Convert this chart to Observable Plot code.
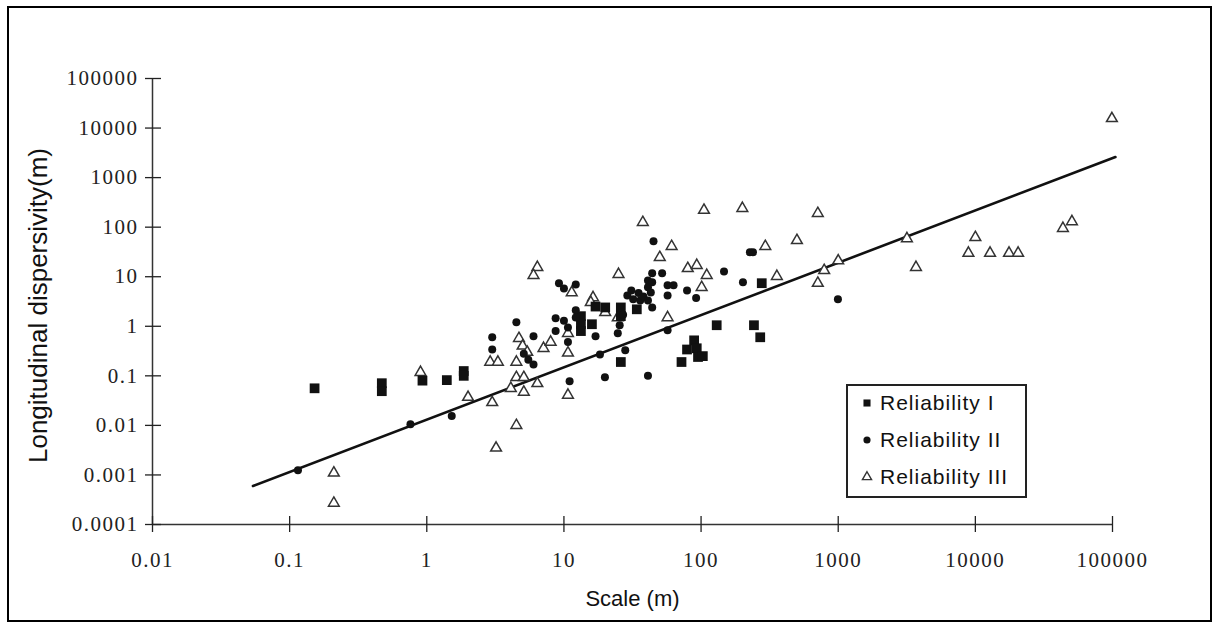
<!DOCTYPE html>
<html><head><meta charset="utf-8">
<script src="https://cdn.jsdelivr.net/npm/d3@7"></script>
<script src="https://cdn.jsdelivr.net/npm/@observablehq/plot@0.6"></script>
<style>
body{margin:0;background:#fff;}
#wrap{position:relative;width:1218px;height:624px;overflow:hidden;}
#wrap svg{display:block;}
#border{position:absolute;left:7px;top:6px;width:1201px;height:612px;border:2px solid #000;pointer-events:none;}
#legend{position:absolute;left:846px;top:384px;width:177px;height:110px;border:2px solid #222;background:#fff;font-family:"Liberation Sans",Arial,sans-serif;font-size:21px;letter-spacing:1px;color:#111;}
.row{position:absolute;left:0;height:30px;display:flex;align-items:center;}
.row svg{margin-left:12px;margin-right:6px;}
g[aria-label="x-axis tick label"] text, g[aria-label="y-axis tick label"] text{letter-spacing:1.5px;}
</style></head>
<body>
<div id="wrap"><div id="chart"></div><div id="legend"></div><div id="border"></div></div>
<script>
// axis ticks
const xTicks = [0.01, 0.1, 1, 10, 100, 1000, 10000, 100000];
const yTicks = [0.0001, 0.001, 0.01, 0.1, 1, 10, 100, 1000, 10000, 100000];

// Reliability I (filled squares)
const relIx = [0.152, 0.47, 0.47, 0.93, 1.4, 1.86, 1.86, 13.3, 13.3, 13.3, 16, 17, 20, 26, 26, 34, 26, 72, 79, 89, 93, 95, 103, 130, 243, 270, 277];
const relIy = [0.056, 0.071, 0.049, 0.08, 0.082, 0.125, 0.1, 1.6, 1.1, 0.8, 1.1, 2.5, 2.4, 2.4, 1.6, 2.2, 0.19, 0.19, 0.34, 0.52, 0.36, 0.24, 0.25, 1.05, 1.05, 0.6, 7.4];

// Reliability II (filled circles)
const relIIx = [0.115, 0.76, 1.52, 3, 3, 4.5, 5.1, 5.5, 6, 6, 8.7, 8.7, 9.2, 10, 10, 10.7, 10.7, 11, 12.2, 12.2, 12.2, 17, 18.3, 19.9, 24.7, 25.5, 27, 28, 29, 31, 32, 35, 36, 38, 41, 41, 41, 43, 44, 44, 44, 45, 52, 57, 57, 57, 63, 41, 79, 92, 147, 202, 227, 239, 995];
const relIIy = [0.00125, 0.0106, 0.0154, 0.6, 0.34, 1.2, 0.28, 0.21, 0.17, 0.63, 1.45, 0.8, 7.4, 5.8, 1.3, 0.95, 0.48, 0.078, 7, 2.1, 1.5, 0.63, 0.27, 0.094, 0.72, 1.05, 1.7, 0.33, 4.2, 5.3, 3.5, 4.7, 3.3, 4, 8.4, 6.1, 3.3, 4.8, 11.7, 7.7, 2.4, 52, 11.7, 6.7, 4.2, 0.83, 6.7, 0.1, 5.3, 3.7, 12.8, 7.7, 31, 31, 3.5];

// Reliability III (open triangles)
const relIIIx = [0.21, 0.21, 0.9, 2.0, 3.0, 4.5, 3.2, 2.9, 3.3, 4.5, 4.5, 5.1, 4.1, 5.1, 6.4, 4.7, 5.0, 5.4, 7.1, 8.0, 10.7, 10.7, 10.7, 6.4, 6.0, 11.4, 16.3, 15.7, 20, 24.7, 25, 37.6, 50, 61, 57, 80, 93, 110, 101, 105, 200, 294, 357, 500, 710, 710, 790, 1000, 3170, 3690, 8900, 10000, 12800, 17600, 20500, 43500, 50600, 99000];
const relIIIy = [0.0011, 0.00027, 0.118, 0.037, 0.029, 0.01, 0.0035, 0.19, 0.19, 0.19, 0.093, 0.093, 0.056, 0.047, 0.07, 0.57, 0.4, 0.3, 0.36, 0.48, 0.72, 0.29, 0.041, 15.5, 10.7, 4.8, 3.8, 3.05, 1.9, 1.5, 11.2, 125, 24.6, 41, 1.5, 14.7, 17, 10.7, 6.1, 220, 240, 41, 10.2, 54, 190, 7.4, 13.4, 21, 59, 15.5, 30, 62, 30, 30, 30, 95, 130, 15600];

// fitted trend line (end points)
const trendX = [0.054, 105000];
const trendY = [0.0006, 2600];

const seriesNames = ["Reliability I", "Reliability II", "Reliability III"];

const toRows = (xs, ys) => xs.map((x, i) => ({x, y: ys[i]}));
const rowsI = toRows(relIx, relIy);
const rowsII = toRows(relIIx, relIIy);
const rowsIII = toRows(relIIIx, relIIIy);
const trend = toRows(trendX, trendY);
const fmt = d => String(d);

const chart = Plot.plot({
  width: 1218, height: 624,
  marginLeft: 152, marginRight: 106, marginTop: 78, marginBottom: 100,
  x: {type: "log", domain: [0.01, 100000]},
  y: {type: "log", domain: [0.0001, 100000]},
  style: {background: "transparent", fontFamily: "'Liberation Serif', 'Times New Roman', serif", color: "#222"},
  marks: [
    Plot.ruleX([0.01], {stroke: "#333", strokeWidth: 1.5}),
    Plot.ruleY([0.0001], {stroke: "#333", strokeWidth: 1.5}),
    Plot.axisX({ticks: xTicks, tickSize: 16, dy: -8, fill: "none", stroke: "#222", strokeWidth: 1.3, label: null}),
    Plot.axisX({ticks: xTicks, tickSize: 0, tickPadding: 28, tickFormat: fmt, fontSize: 21, fill: "#222", label: null}),
    Plot.axisY({ticks: yTicks, tickSize: 16, dx: 9, fill: "none", stroke: "#222", strokeWidth: 1.3, label: null}),
    Plot.axisY({ticks: yTicks, tickSize: 0, tickPadding: 14, tickFormat: fmt, fontSize: 21, fill: "#222", label: null}),
    Plot.text(["Scale (m)"], {frameAnchor: "bottom", textAnchor: "middle", lineAnchor: "middle", dy: 74, fontSize: 22, fontFamily: "'Liberation Sans', Arial, sans-serif", fill: "#111"}),
    Plot.text(["Longitudinal dispersivity(m)"], {frameAnchor: "left", textAnchor: "middle", lineAnchor: "middle", dx: -114, dy: 4, rotate: -90, fontSize: 26, fontFamily: "'Liberation Sans', Arial, sans-serif", fill: "#111"}),
    Plot.line(trend, {x: "x", y: "y", stroke: "#111", strokeWidth: 2.6}),
    Plot.dot(rowsIII, {x: "x", y: "y", symbol: "triangle", r: 4, stroke: "#333", strokeWidth: 1.5, fill: "white"}),
    Plot.dot(rowsI, {x: "x", y: "y", symbol: "square", r: 5.5, fill: "#111", stroke: "none"}),
    Plot.dot(rowsII, {x: "x", y: "y", r: 4, fill: "#111", stroke: "none"})
  ]
});
document.getElementById("chart").appendChild(chart);

// legend
const legend = document.getElementById("legend");
const legendSymbols = [
  {sym: d3.symbolSquare, size: 50, fill: "#111", stroke: "none"},
  {sym: d3.symbolCircle, size: 40, fill: "#111", stroke: "none"},
  {sym: d3.symbolTriangle, size: 36, fill: "white", stroke: "#333"}
];
seriesNames.forEach((name, i) => {
  const row = document.createElement("div");
  row.className = "row";
  row.style.top = (2 + i * 37) + "px";
  const s = legendSymbols[i];
  const path = d3.symbol(s.sym, s.size)();
  row.innerHTML = `<svg width="14" height="14" viewBox="-7 -7 14 14"><path d="${path}" fill="${s.fill}" stroke="${s.stroke}" stroke-width="1.4"/></svg><span>${name}</span>`;
  legend.appendChild(row);
});
</script>
</body></html>
